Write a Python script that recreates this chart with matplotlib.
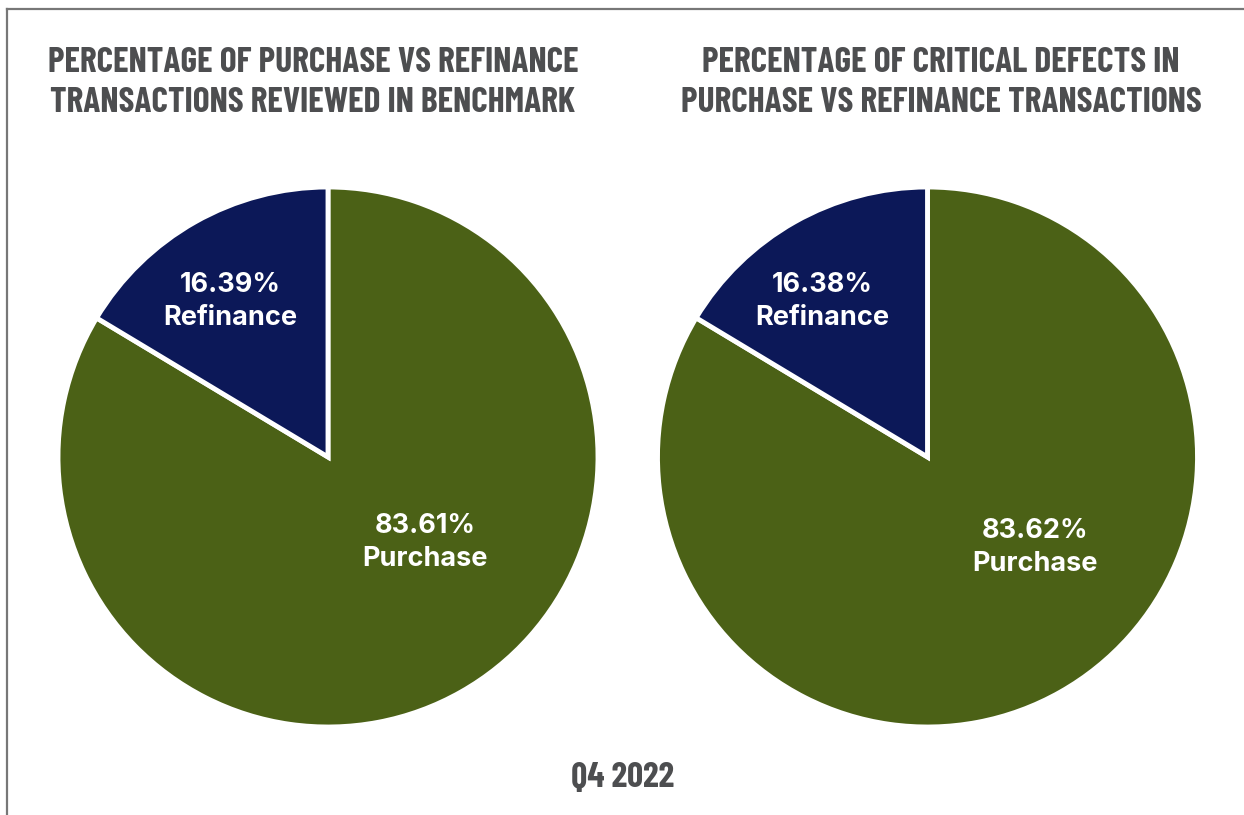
import matplotlib.pyplot as plt
from matplotlib.lines import Line2D

labels = ["Purchase", "Refinance"]
benchmark_share = [83.61, 16.39]
defect_share = [83.62, 16.38]
titles = [
    "PERCENTAGE OF PURCHASE VS REFINANCE\nTRANSACTIONS REVIEWED IN BENCHMARK",
    "PERCENTAGE OF CRITICAL DEFECTS IN\nPURCHASE VS REFINANCE TRANSACTIONS",
]
period = "Q4 2022"

colors = ["#4b6116", "#0c1858"]
title_color = "#4d4e50"
head_font = ["Barlow Condensed", "DejaVu Sans"]
label_font = ["Inter", "DejaVu Sans"]

fig = plt.figure(figsize=(12.44, 8.15), dpi=100)
W, H = 1244, 815

# frame lines on top and left edge
fig.add_artist(Line2D([7 / W, 1], [1 - 9 / H, 1 - 9 / H], color="#777777", lw=1.6, transform=fig.transFigure))
fig.add_artist(Line2D([7 / W, 7 / W], [0, 1 - 9 / H], color="#777777", lw=1.6, transform=fig.transFigure))

centers = [(328, 457), (927.5, 457)]
radius = 270
label_pos = [
    {"Refinance": (-0.363, 0.577), "Purchase": (0.36, -0.315)},
    {"Refinance": (-0.39, 0.577), "Purchase": (0.40, -0.335)},
]
title_x = [313, 941]

for i, vals in enumerate([benchmark_share, defect_share]):
    cx, cy = centers[i]
    ax = fig.add_axes([(cx - radius) / W, (H - cy - radius) / H, 2 * radius / W, 2 * radius / H])
    ax.pie(vals, colors=colors, startangle=90, counterclock=False,
           wedgeprops=dict(edgecolor="white", linewidth=3.5))
    ax.set_xlim(-1, 1)
    ax.set_ylim(-1, 1)
    ax.set_aspect("equal")
    ax.axis("off")
    for name, v in zip(labels, vals):
        x, y = label_pos[i][name]
        ax.text(x, y, f"{v:.2f}%\n{name}", ha="center", va="center", color="white",
                fontsize=19.5, fontweight="bold", family=label_font, linespacing=1.35)
    fig.text(title_x[i] / W, 1 - 83 / H, titles[i], ha="center", va="center", color=title_color,
             fontsize=25.5, fontweight="bold", family=head_font, linespacing=1.3)

fig.text(623 / W, 1 - 778 / H, period, ha="center", va="center", color=title_color,
         fontsize=25.5, fontweight="bold", family=head_font)

fig.savefig("out.png", dpi=100, facecolor="white")
